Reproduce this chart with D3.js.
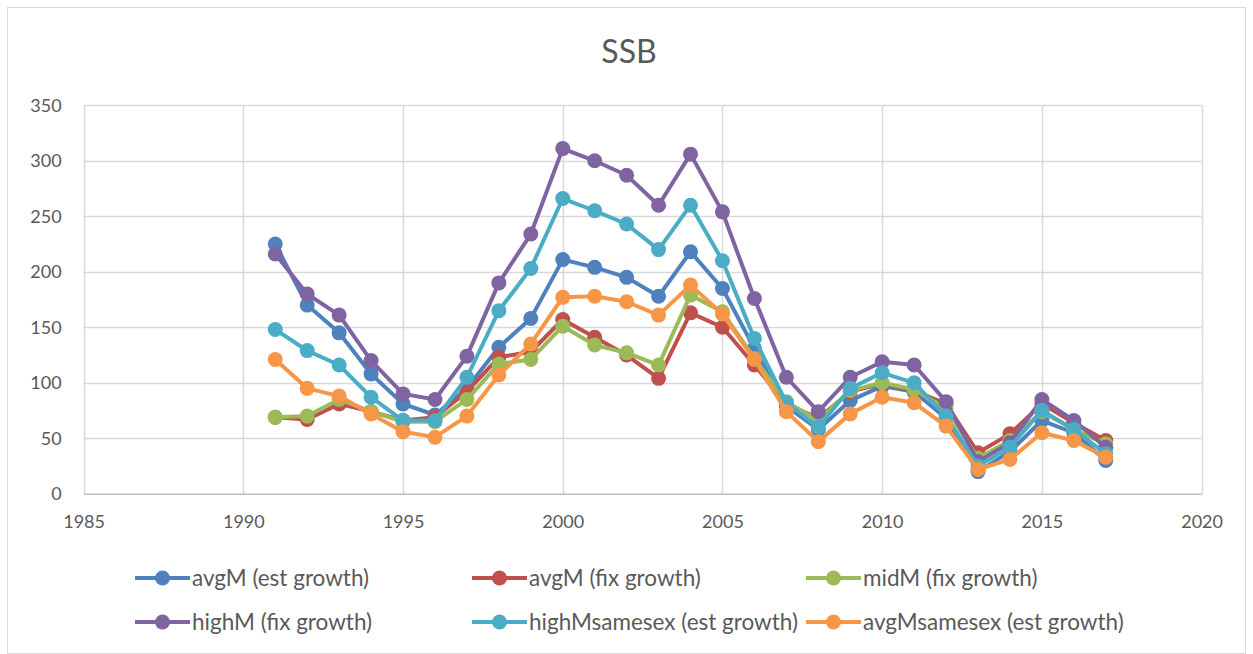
<!DOCTYPE html>
<html>
<head>
<meta charset="utf-8">
<script src="https://cdn.jsdelivr.net/npm/d3@7"></script>
<style>
  html, body { margin: 0; padding: 0; background: #fff; }
  svg { display: block; font-family: Lato, "Open Sans", sans-serif; }
</style>
</head>
<body>
<svg id="chart" width="1253" height="654"></svg>
<script>
// Spawning stock biomass under different natural mortality / growth assumptions
const years = [1991, 1992, 1993, 1994, 1995, 1996, 1997, 1998, 1999, 2000, 2001, 2002, 2003, 2004,
               2005, 2006, 2007, 2008, 2009, 2010, 2011, 2012, 2013, 2014, 2015, 2016, 2017];

const avgMEst      = [225, 170, 145, 108, 81, 71, 95, 132, 158, 211, 204, 195, 178, 218,
                      185, 131, 79, 58, 84, 97, 92, 68, 20, 38, 66, 55, 30];
const avgMFix      = [69, 67, 81, 74, 66, 69, 92, 123, 128, 157, 141, 125, 104, 163,
                      150, 116, 81, 68, 92, 99, 93, 81, 37, 54, 81, 64, 48];
const midMFix      = [69, 70, 85, 74, 65, 65, 85, 117, 121, 151, 134, 127, 116, 179,
                      164, 122, 83, 66, 93, 100, 94, 77, 32, 48, 74, 58, 45];
const highMFix     = [216, 180, 161, 120, 90, 85, 124, 190, 234, 311, 300, 287, 260, 306,
                      254, 176, 105, 74, 105, 119, 116, 83, 29, 46, 85, 66, 42];
const highMSameEst = [148, 129, 116, 87, 66, 66, 105, 165, 203, 266, 255, 243, 220, 260,
                      210, 140, 82, 60, 95, 109, 100, 70, 25, 42, 75, 58, 36];
const avgMSameEst  = [121, 95, 88, 72, 56, 51, 70, 107, 135, 177, 178, 173, 161, 188,
                      162, 121, 74, 47, 72, 87, 82, 61, 22, 31, 55, 48, 33];

const seriesNames  = ["avgM (est growth)", "avgM (fix growth)", "midM (fix growth)",
                      "highM (fix growth)", "highMsamesex (est growth)", "avgMsamesex (est growth)"];
const seriesColors = ["#4F81BD", "#C0504D", "#9BBB59", "#8064A2", "#4BACC6", "#F79646"];

const xTicks = [1985, 1990, 1995, 2000, 2005, 2010, 2015, 2020];
const yTicks = [0, 50, 100, 150, 200, 250, 300, 350];

const series = [avgMEst, avgMFix, midMFix, highMFix, highMSameEst, avgMSameEst].map((vals, i) => ({
  name: seriesNames[i],
  color: seriesColors[i],
  points: years.map((y, j) => ({ year: y, value: vals[j] }))
}));

const svg = d3.select("#chart");
const W = 1253, H = 654;
const plot = { left: 83.6, right: 1201.6, top: 105.3, bottom: 493.8 };

const x = d3.scaleLinear().domain([1985, 2020]).range([plot.left, plot.right]);
const y = d3.scaleLinear().domain([0, 350]).range([plot.bottom, plot.top]);

// chart area frame
svg.append("rect")
  .attr("x", 7.5).attr("y", 7.5)
  .attr("width", W - 15).attr("height", H - 8)
  .attr("fill", "#fff").attr("stroke", "#d9d9d9").attr("stroke-width", 1);

// title
svg.append("text")
  .attr("x", 629).attr("y", 63)
  .attr("text-anchor", "middle")
  .attr("fill", "#595959")
  .attr("font-size", 32)
  .text("SSB");

// horizontal gridlines
svg.append("g")
  .selectAll("line")
  .data(yTicks.filter(t => t > 0))
  .join("line")
  .attr("x1", plot.left).attr("x2", plot.right)
  .attr("y1", d => Math.round(y(d)) + 0.5).attr("y2", d => Math.round(y(d)) + 0.5)
  .attr("stroke", "#d9d9d9").attr("stroke-width", 1.5);

// vertical gridlines
svg.append("g")
  .selectAll("line")
  .data(xTicks)
  .join("line")
  .attr("x1", d => Math.round(x(d)) + 0.5).attr("x2", d => Math.round(x(d)) + 0.5)
  .attr("y1", plot.top).attr("y2", plot.bottom)
  .attr("stroke", "#d9d9d9").attr("stroke-width", 1.5);

// x axis
const xAxis = svg.append("g")
  .attr("transform", `translate(0,${plot.bottom})`)
  .call(d3.axisBottom(x).tickValues(xTicks).tickFormat(d3.format("d")).tickSize(0).tickPadding(21));
xAxis.select(".domain").attr("stroke", "#bfbfbf").attr("stroke-width", 1.5);
xAxis.selectAll("text").attr("fill", "#595959").attr("font-size", 18).attr("font-family", "Lato, sans-serif");

// y axis
const yAxis = svg.append("g")
  .attr("transform", `translate(${plot.left},0)`)
  .call(d3.axisLeft(y).tickValues(yTicks).tickSize(0).tickPadding(22));
yAxis.select(".domain").remove();
yAxis.selectAll("text").attr("fill", "#595959").attr("font-size", 18).attr("font-family", "Lato, sans-serif");

// series lines and markers
const line = d3.line().x(d => x(d.year)).y(d => y(d.value));
const seriesG = svg.append("g");
series.forEach(s => {
  const g = seriesG.append("g");
  g.append("path")
    .datum(s.points)
    .attr("d", line)
    .attr("fill", "none")
    .attr("stroke", s.color)
    .attr("stroke-width", 4)
    .attr("stroke-linejoin", "round");
  g.selectAll("circle")
    .data(s.points)
    .join("circle")
    .attr("cx", d => x(d.year))
    .attr("cy", d => y(d.value))
    .attr("r", 7.5)
    .attr("fill", s.color);
});

// legend
const legendCols = [135, 472, 806];
const legendRows = [578, 622];
const legend = svg.append("g");
series.forEach((s, i) => {
  const lx = legendCols[i % 3];
  const ly = legendRows[Math.floor(i / 3)];
  const item = legend.append("g").attr("transform", `translate(${lx},${ly})`);
  item.append("line")
    .attr("x1", 0).attr("x2", 55).attr("y1", 0).attr("y2", 0)
    .attr("stroke", s.color).attr("stroke-width", 4);
  item.append("circle").attr("cx", 27.5).attr("cy", 0).attr("r", 7.5).attr("fill", s.color);
  item.append("text")
    .attr("x", 57).attr("y", 0).attr("dy", "0.35em")
    .attr("fill", "#595959").attr("font-size", 22.5)
    .text(s.name);
});
</script>
</body>
</html>
